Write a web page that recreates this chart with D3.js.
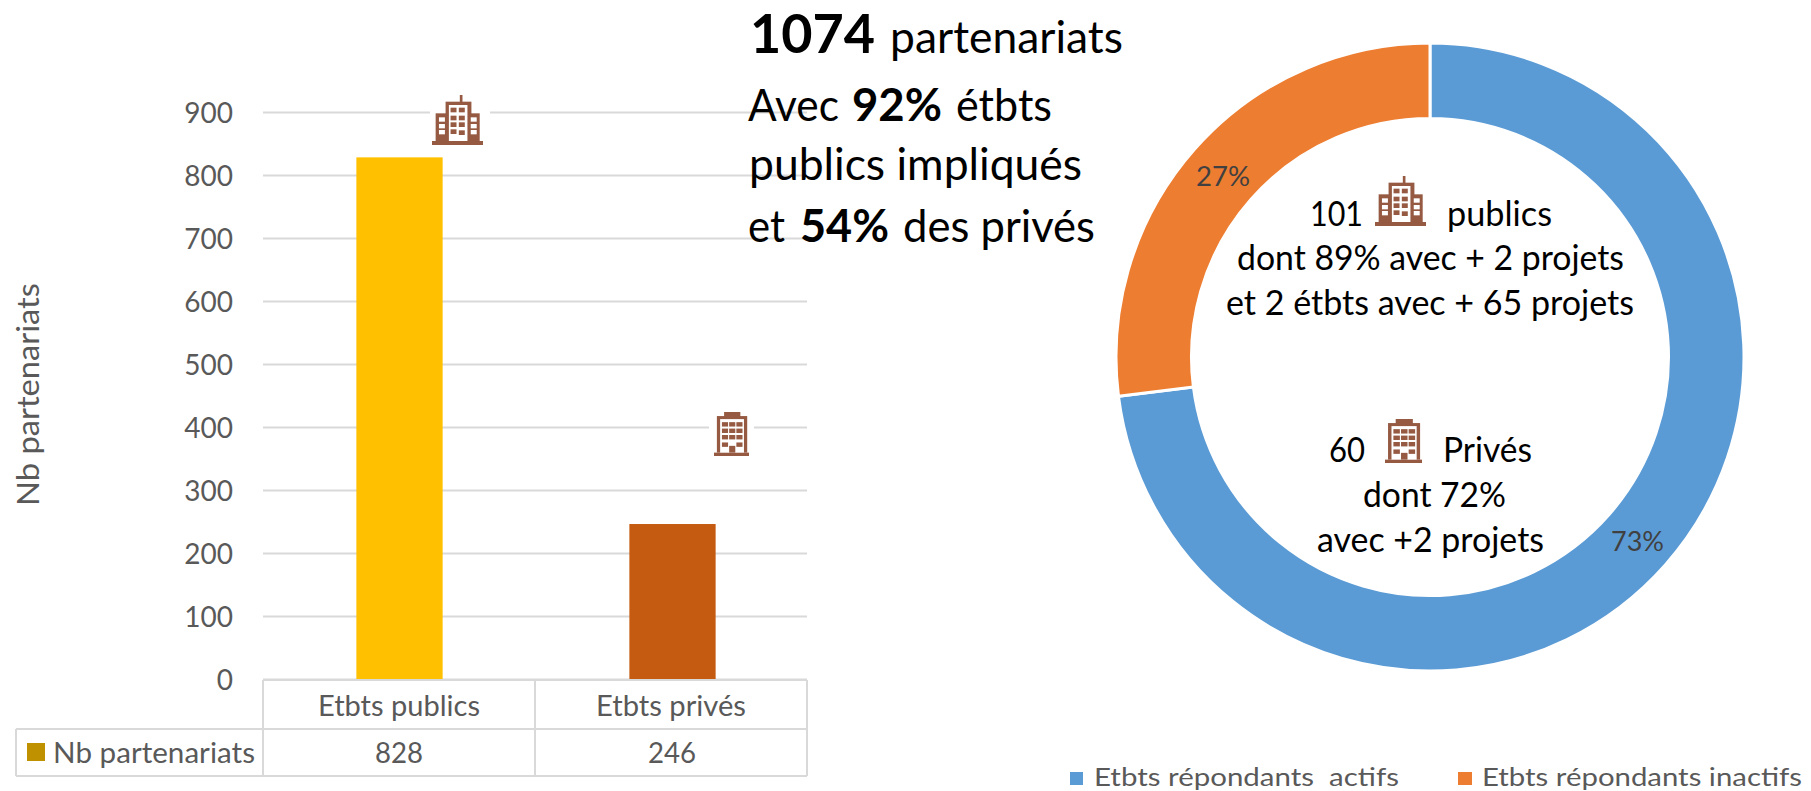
<!DOCTYPE html>
<html lang="fr"><head><meta charset="utf-8">
<script src="https://cdnjs.cloudflare.com/ajax/libs/d3/7.8.5/d3.min.js"></script>
<style>html,body{margin:0;background:#fff}svg{display:block}text{font-family:Lato,"Open Sans",sans-serif}</style>
</head><body><svg id="c" width="1811" height="791"></svg>
<script>
// ---- data
const categories = ["Etbts publics", "Etbts privés"];
const partnerships = [828, 246];
const seriesName = "Nb partenariats";
const yTicks = [0,100,200,300,400,500,600,700,800,900];
const donutLabels = ["Etbts répondants  actifs", "Etbts répondants inactifs"];
const donutValues = [73, 27];

// ---- style
const barColors = ["#FFC000", "#C55A11"];
const donutColors = ["#5B9BD5", "#ED7D31"];
const GREY = "#595959", GRID = "#D9D9D9", ICON = "#965A42";

const svg = d3.select("#c");
function put(parent, t, x0, x1, base, size, bold, color) {
  return parent.append("text").attr("x", x0).attr("y", base)
    .attr("font-size", size).attr("font-weight", bold ? 700 : 400)
    .attr("fill", color).attr("textLength", x1 - x0)
    .attr("lengthAdjust", "spacingAndGlyphs").style("white-space","pre").text(t);
}

// ---- bar chart
const plot = {l:263, r:807, t:112, b:679};
const y = d3.scaleLinear().domain([0,900]).range([plot.b, plot.t]);
const x = d3.scaleBand().domain(categories).range([plot.l, plot.l+546]).paddingInner(0.684).paddingOuter(0.342);

const axis = svg.append("g").attr("transform", `translate(${plot.l},0)`)
  .call(d3.axisLeft(y).tickValues(yTicks).tickSize(-(plot.r-plot.l)).tickPadding(30));
axis.select(".domain").remove();
axis.selectAll(".tick line").attr("stroke", GRID).attr("stroke-width", 2);
axis.selectAll(".tick text").attr("font-size", 28).attr("fill", GREY).attr("x", -30).attr("dy", "0.36em")
  .style("font-family","Lato,sans-serif");

svg.append("g").selectAll("rect").data(categories).join("rect")
  .attr("x", d => x(d)).attr("width", x.bandwidth())
  .attr("y", (d,i) => y(partnerships[i])).attr("height", (d,i) => y(0) - y(partnerships[i]))
  .attr("fill", (d,i) => barColors[i]);

// y axis title
const yt = svg.append("g").attr("transform", "translate(39,506) rotate(-90)");
put(yt, seriesName, 0, 223, 0, 30, false, GREY);

// data table
const tbl = svg.append("g").attr("fill","none").attr("stroke",GRID).attr("stroke-width",2);
const mid = (plot.l+plot.r)/2, r1 = 729, r2 = 776;
[[plot.l,plot.b+1,plot.r,plot.b+1],[16,r1,plot.r,r1],[16,r2,plot.r,r2],[16,r1,16,r2],
 [plot.l,plot.b+1,plot.l,r2],[mid,plot.b+1,mid,r2],[plot.r,plot.b+1,plot.r,r2]].forEach(s =>
  tbl.append("line").attr("x1",s[0]).attr("y1",s[1]).attr("x2",s[2]).attr("y2",s[3]));
const tt = svg.append("g");
put(tt, categories[0], 318, 480, 716, 28, false, GREY);
put(tt, categories[1], 596, 746, 716, 28, false, GREY);
put(tt, String(partnerships[0]), 375, 423, 763, 28, false, GREY);
put(tt, String(partnerships[1]), 648, 696, 763, 28, false, GREY);
put(tt, seriesName, 53, 255, 763, 28, false, GREY);
tt.append("rect").attr("x",27).attr("y",743).attr("width",18).attr("height",18).attr("fill","#BF9000");

// ---- icons (drawn in the reference crop's own pixel frame, then scaled into a box)
const towers = {
  box:[96,45,154,150],
  rects:[[96,183,154,12,ICON],[180,45,8,22,ICON],[107,100,133,85,ICON],[137,65,78,120,ICON],[147,75,56,108,"#fff"],
   [152,83,18,14,ICON],[177,83,18,14,ICON],[152,107,18,14,ICON],[177,107,18,14,ICON],[152,127,18,14,ICON],[177,127,18,14,ICON],[152,148,18,14,ICON],[177,151,18,14,ICON],
   [117,112,18,13,"#fff"],[117,132,18,13,"#fff"],[117,150,18,13,"#fff"],[213,112,18,13,"#fff"],[213,132,18,13,"#fff"],[213,150,18,13,"#fff"]]
};
const office = {
  box:[745,805,97,130],
  rects:[[745,925,97,10,ICON],[773,805,45,15,ICON],[753,817,84,108,ICON],[762,826,66,99,"#fff"],
   [767,835,17,13,ICON],[787,835,17,13,ICON],[807,835,17,13,ICON],[767,854,17,13,ICON],[787,854,17,13,ICON],[807,854,17,13,ICON],
   [767,873,17,13,ICON],[787,873,17,13,ICON],[807,873,17,13,ICON],[767,895,17,13,ICON],[807,895,17,13,ICON],[787,905,17,20,ICON]]
};
function icon(def, x0, y0, w, h, backdrop) {
  if (backdrop) svg.append("rect").attr("x",backdrop[0]).attr("y",y0-2).attr("width",backdrop[1]-backdrop[0]).attr("height",h+4).attr("fill","#fff");
  const [bx,by,bw,bh] = def.box, sx = w/bw, sy = h/bh;
  const g = svg.append("g");
  def.rects.forEach(r => g.append("rect").attr("x",x0+(r[0]-bx)*sx).attr("y",y0+(r[1]-by)*sy)
    .attr("width",r[2]*sx).attr("height",r[3]*sy).attr("fill",r[4]));
}
icon(towers, 432, 95, 51, 50, [430,490]);
icon(office, 714, 412, 35, 44, [709,754]);

// ---- headline text
const head = svg.append("g");
put(head,"1074",750,875,53,53,true,"#000");
put(head,"partenariats",890,1123,53,44,false,"#000");
put(head,"Avec",748,839,121,45,false,"#000");
put(head,"92%",852,942,121,45,true,"#000");
put(head,"étbts",956,1052,121,45,false,"#000");
put(head,"publics impliqués",749,1082,180,45,false,"#000");
put(head,"et",748,785,242,45,false,"#000");
put(head,"54%",800,889,242,45,true,"#000");
put(head,"des privés",903,1095,242,45,false,"#000");

// ---- donut
const cx = 1430, cy = 357, R = 314, r0 = 238.5;
const pie = d3.pie().sort(null).value(d => d);
const arc = d3.arc().innerRadius(r0).outerRadius(R);
svg.append("g").attr("transform",`translate(${cx},${cy})`)
  .selectAll("path").data(pie(donutValues)).join("path")
  .attr("d",arc).attr("fill",(d,i)=>donutColors[i]).attr("stroke","#fff").attr("stroke-width",3);

const dt = svg.append("g");
put(dt,donutValues[1]+"%",1196,1250,186,27,false,"#404040");
put(dt,donutValues[0]+"%",1611,1664,551,27,false,"#404040");
put(dt,"101",1310,1363,226,35,false,"#000");
put(dt,"publics",1447,1552,226,35,false,"#000");
put(dt,"dont 89% avec + 2 projets",1237,1624,270,35,false,"#000");
put(dt,"et 2 étbts avec + 65 projets",1226,1634,315,35,false,"#000");
put(dt,"60",1329,1365,462,35,false,"#000");
put(dt,"Privés",1443,1532,462,35,false,"#000");
put(dt,"dont 72%",1363,1506,507,35,false,"#000");
put(dt,"avec +2 projets",1317,1544,552,35,false,"#000");
icon(towers,1375,176,51,50);
icon(office,1385,419,37,44);

// ---- donut legend
const lg = svg.append("g");
lg.append("rect").attr("x",1070).attr("y",772).attr("width",13).attr("height",13).attr("fill",donutColors[0]);
lg.append("rect").attr("x",1458).attr("y",772).attr("width",14).attr("height",13).attr("fill",donutColors[1]);
put(lg,donutLabels[0],1094,1399,785.5,25,false,GREY);
put(lg,donutLabels[1],1482,1802,785.5,25,false,GREY);
</script></body></html>
